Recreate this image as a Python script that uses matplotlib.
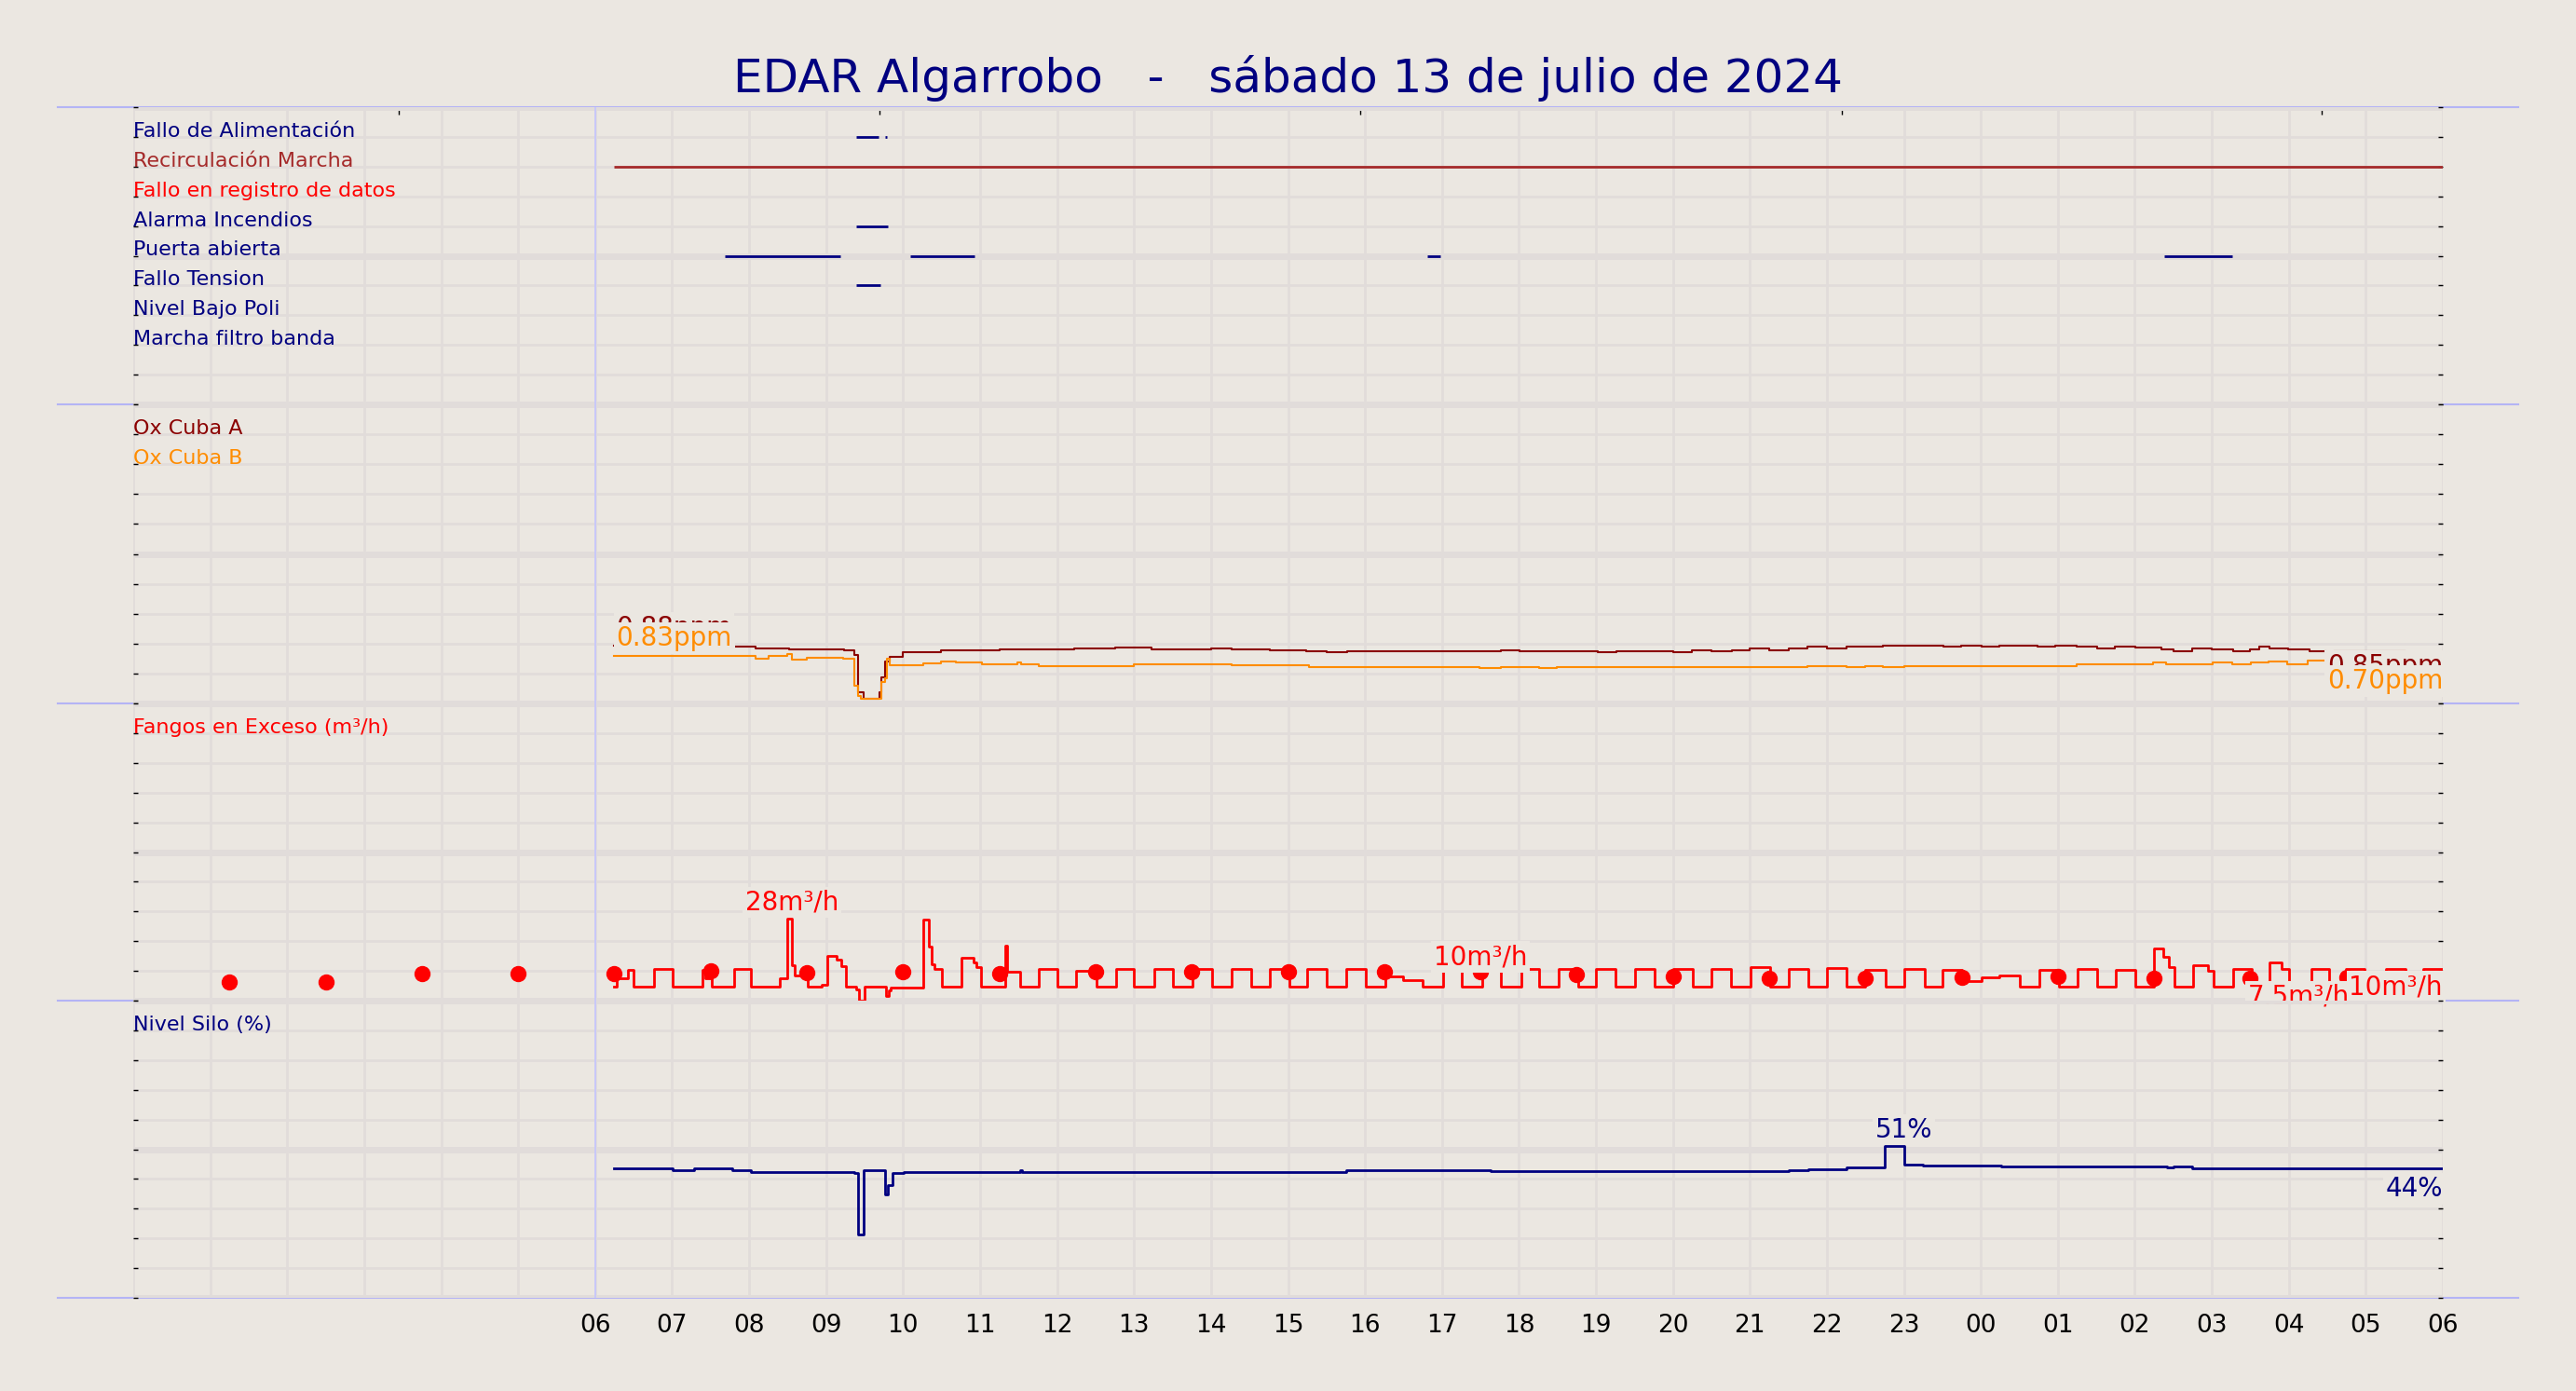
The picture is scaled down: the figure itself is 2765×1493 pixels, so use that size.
import numpy as np
import matplotlib.pyplot as plt
from matplotlib.lines import Line2D

BG = '#ebe7e1'
GRID = '#e1dcda'
BLUE = '#b4b4f5'

# hours counted from 00:00 of 13 July (axis runs 0..30)
hours = list(range(0, 31))
hour_labels = ['' if h < 6 else '%02d' % (h % 24) for h in hours]
top_ticks = [3.45, 9.69, 15.94, 22.19, 28.43]

# --- digital signals ---
digital_names = ['Fallo de Alimentación', 'Recirculación Marcha', 'Fallo en registro de datos',
                 'Alarma Incendios', 'Puerta abierta', 'Fallo Tension', 'Nivel Bajo Poli',
                 'Marcha filtro banda']
digital_colors = ['navy', 'brown', 'red', 'navy', 'navy', 'navy', 'navy', 'navy']
digital_rows = [9, 8, 7, 6, 5, 4, 3, 2]
digital_on = [
    [(9.39, 9.68), (9.76, 9.79)],
    [(6.24, 30.0)],
    [],
    [(9.39, 9.80)],
    [(7.69, 9.19), (10.09, 10.93), (16.81, 16.98), (26.38, 27.27)],
    [(9.39, 9.71)],
    [],
    [],
]

# --- oxygen (ppm) ---
ox_a_t = [6.24, 7.80, 8.08, 8.52, 8.75, 8.95, 9.23, 9.37, 9.41, 9.49, 9.69, 9.72, 9.76, 9.83,
          9.99, 10.49, 11.26, 11.53, 12.22, 12.76, 13.23, 13.50, 13.73, 14.00, 14.27, 14.50,
          14.77, 15.23, 15.50, 15.77, 16.27, 16.73, 17.03, 17.76, 18.01, 19.02, 19.26, 20.00,
          20.25, 20.50, 20.77, 21.00, 21.25, 21.50, 21.75, 22.00, 22.26, 22.73, 23.51, 23.74,
          24.01, 24.24, 24.74, 24.97, 25.24, 25.51, 25.74, 26.01, 26.34, 26.50, 26.74, 27.00,
          27.28, 27.49, 27.61, 27.75, 27.99, 28.27, 28.49, 28.58, 28.96, 29.51, 30.0]
ox_a_v = [0.97, 0.95, 0.925, 0.91, 0.90, 0.91, 0.89, 0.81, 0.18, 0.08, 0.18, 0.44, 0.70, 0.78,
          0.86, 0.89, 0.90, 0.91, 0.925, 0.93, 0.91, 0.90, 0.91, 0.925, 0.91, 0.90,
          0.89, 0.88, 0.86, 0.87, 0.87, 0.875, 0.874, 0.894, 0.874, 0.858, 0.874, 0.858,
          0.894, 0.874, 0.894, 0.925, 0.894, 0.925, 0.946, 0.925, 0.946, 0.96, 0.946, 0.96,
          0.946, 0.96, 0.946, 0.96, 0.946, 0.925, 0.946, 0.93, 0.91, 0.88, 0.92, 0.91,
          0.88, 0.91, 0.95, 0.92, 0.90, 0.88, 0.84, 0.87, 0.88, 0.86, 0.86]
ox_b_t = [6.24, 8.08, 8.25, 8.50, 8.56, 8.75, 9.22, 9.37, 9.41, 9.45, 9.72, 9.76, 9.79, 9.83,
          10.26, 10.49, 10.68, 11.03, 11.49, 11.53, 11.76, 12.49, 13.00, 14.27, 15.27, 15.77,
          17.03, 17.49, 17.76, 18.26, 18.49, 21.75, 22.26, 22.50, 22.73, 23.00, 25.24, 26.01,
          26.24, 26.40, 26.51, 26.74, 27.01, 27.27, 27.51, 27.74, 27.98, 28.25, 28.52, 29.2, 30.0]
ox_b_v = [0.79, 0.74, 0.79, 0.82, 0.73, 0.76, 0.74, 0.30, 0.12, 0.08, 0.36, 0.42, 0.75, 0.64,
          0.67, 0.70, 0.68, 0.65, 0.69, 0.65, 0.62, 0.63, 0.66, 0.64, 0.61, 0.60,
          0.61, 0.59, 0.61, 0.59, 0.61, 0.63, 0.61, 0.63, 0.61, 0.63, 0.65, 0.66,
          0.69, 0.66, 0.65, 0.66, 0.69, 0.66, 0.69, 0.70, 0.66, 0.72, 0.73, 0.72, 0.72]

# --- fangos en exceso (m3/h) ---
fangos_t = [6.25, 6.28, 6.42, 6.50, 6.77, 7.01, 7.39, 7.43, 7.51, 7.81, 8.02, 8.40, 8.50, 8.56,
            8.59, 8.76, 8.94, 9.01, 9.14, 9.20, 9.26, 9.39, 9.43, 9.50, 9.78, 9.81, 9.84, 10.26,
            10.33, 10.37, 10.41, 10.51, 10.76, 10.91, 10.95, 11.01, 11.33, 11.35, 11.52, 11.76,
            12.01, 12.25, 12.51, 12.77, 13.00, 13.26, 13.51, 13.76, 14.01, 14.27, 14.52, 14.76,
            15.02, 15.25, 15.50, 15.76, 16.01, 16.26, 16.50, 16.75, 17.02, 17.26, 17.52, 17.76,
            18.03, 18.26, 18.51, 18.77, 19.00, 19.25, 19.51, 19.76, 20.01, 20.26, 20.50, 20.75,
            21.01, 21.26, 21.51, 21.76, 22.00, 22.26, 22.50, 22.76, 23.00, 23.27, 23.50, 23.75,
            24.01, 24.24, 24.50, 24.76, 25.01, 25.26, 25.51, 25.75, 26.01, 26.25, 26.37, 26.44,
            26.51, 26.76, 26.95, 27.02, 27.28, 27.52, 27.75, 27.91, 28.00, 28.29, 28.52, 28.74,
            28.98, 29.26, 29.52, 29.75, 30.0]
fangos_v = [4.8, 7.5, 10.4, 4.8, 10.8, 4.8, 10.4, 7.5, 4.8, 10.8, 4.8, 7.5, 27.5, 12.0,
            8.5, 4.6, 5.2, 15.1, 13.7, 11.5, 4.8, 3.8, 0.0, 4.8, 1.5, 3.3, 4.4, 27.3,
            18.1, 12.2, 10.6, 4.8, 14.5, 13.0, 11.3, 4.8, 18.4, 9.8, 4.8, 10.8,
            4.8, 10.0, 4.8, 10.8, 4.8, 10.8, 4.8, 10.8, 4.8, 10.8, 4.8, 10.8,
            4.8, 10.8, 4.8, 10.8, 4.8, 8.0, 7.0, 4.8, 10.8, 4.8, 10.8, 4.8,
            10.8, 4.8, 10.8, 4.8, 10.8, 4.8, 10.8, 4.8, 10.8, 4.8, 10.6, 4.8,
            11.2, 4.8, 10.8, 4.8, 11.0, 4.8, 10.3, 4.8, 10.8, 4.8, 10.2, 6.7,
            7.9, 8.5, 4.6, 10.3, 4.8, 10.6, 4.8, 10.4, 4.8, 17.6, 14.6, 11.3,
            4.8, 12.0, 10.1, 4.8, 10.8, 4.8, 12.9, 10.6, 4.8, 10.8, 4.8, 10.8,
            4.8, 10.8, 4.8, 10.8, 10.8]
fangos_dot_t = [1.25, 2.5, 3.75, 5.0, 6.25, 7.5, 8.75, 10.0, 11.25, 12.5, 13.75, 15.0,
                16.25, 17.5, 18.75, 20.0, 21.25, 22.5, 23.75, 25.0, 26.25, 27.5, 28.75]
fangos_dot_v = [6.3, 6.3, 9.0, 9.0, 9.1, 10.1, 9.4, 9.6, 9.1, 9.6, 9.6, 9.6,
                9.6, 9.6, 8.8, 8.0, 7.5, 7.5, 7.7, 8.0, 7.4, 7.4, 7.9]

# --- nivel silo (%) ---
silo_t = [6.25, 7.01, 7.28, 7.78, 8.02, 9.37, 9.41, 9.49, 9.77, 9.80, 9.86, 10.01, 11.52,
          11.55, 15.76, 17.63, 21.50, 21.76, 22.26, 22.75, 23.00, 23.25, 24.26, 26.42, 26.50,
          26.74, 30.0]
silo_v = [43.6, 43.0, 43.6, 42.8, 42.4, 41.9, 21.3, 42.8, 34.8, 38.0, 42.0, 42.4, 42.9,
          42.4, 42.8, 42.7, 42.9, 43.4, 43.8, 51.0, 44.8, 44.4, 44.1, 43.8, 44.3,
          43.7, 43.7]

W, H = 2765, 1493
fig = plt.figure(figsize=(W / 100, H / 100), dpi=100, facecolor=BG)

left, right = 143 / W, 2622 / W
edges = [115, 434, 755, 1074, 1393]
ymax = [10, 5, 100, 100]
axes = []
for i in range(4):
    b = 1 - edges[i + 1] / H
    h = (edges[i + 1] - edges[i]) / H
    ax = fig.add_axes([left, b, right - left, h])
    ax.set_facecolor('none')
    ax.set_xlim(0, 30)
    ax.set_ylim(0, ymax[i])
    for s in ax.spines.values():
        s.set_visible(False)
    ax.set_yticks(np.linspace(0, ymax[i], 3))
    ax.set_yticks(np.linspace(0, ymax[i], 11), minor=True)
    ax.set_xticks(hours)
    ax.set_xticklabels(hour_labels)
    ax.grid(True, axis='y', which='major', color=GRID, lw=5)
    ax.grid(True, axis='y', which='minor', color=GRID, lw=2)
    ax.grid(True, axis='x', which='major', color=GRID, lw=2)
    ax.tick_params(axis='y', which='both', direction='in', length=3.5, width=1,
                   left=True, right=True, labelleft=False, color='black')
    ax.tick_params(axis='x', length=0, labelsize=19, pad=12, labelbottom=(i == 3))
    ax.axvline(6, color='#c4c4ff', lw=1.2, zorder=1.6)
    axes.append(ax)

ax1, ax2, ax3, ax4 = axes
sec = ax1.secondary_xaxis('top')
sec.set_xticks(top_ticks)
sec.tick_params(direction='in', length=6, width=1, labeltop=False, color='black')
sec.spines['top'].set_visible(False)

# horizontal separators
for e in edges:
    y = 1 - e / H
    fig.add_artist(Line2D([62 / W, 2703 / W], [y, y], color=BLUE, lw=1.5, zorder=-1))

fig.text(0.5, 1 - 84 / H, 'EDAR Algarrobo   -   sábado 13 de julio de 2024',
         ha='center', va='center', fontsize=36, color='navy')

box = dict(facecolor=BG, edgecolor='none', pad=2)

# panel 1
for name, col, row, spans in zip(digital_names, digital_colors, digital_rows, digital_on):
    ax1.text(0, row, name, color=col, fontsize=16, ha='left', va='baseline')
    for s, e in spans:
        ax1.hlines(row, s, e, color=col, lw=2)

# panel 2
ax2.text(0, 4.5, 'Ox Cuba A', color='darkred', fontsize=16, va='baseline')
ax2.text(0, 4.0, 'Ox Cuba B', color='darkorange', fontsize=16, va='baseline')
ax2.plot(ox_a_t, ox_a_v, drawstyle='steps-post', color='darkred', lw=1.5)
ax2.plot(ox_b_t, ox_b_v, drawstyle='steps-post', color='darkorange', lw=1.5)
ax2.annotate('0.88ppm', (ox_a_t[0], ox_a_v[0]), xytext=(2, 8), textcoords='offset points',
             ha='left', va='baseline', color='darkred', fontsize=20, bbox=box)
ax2.annotate('0.83ppm', (ox_b_t[0], ox_b_v[0]), xytext=(2, 8), textcoords='offset points',
             ha='left', va='baseline', color='darkorange', fontsize=20, bbox=box)
ax2.annotate('0.85ppm', (ox_a_t[-1], ox_a_v[-1]), xytext=(0, -1), textcoords='offset points',
             ha='right', va='top', color='darkred', fontsize=20, bbox=box)
ax2.annotate('0.70ppm', (ox_b_t[-1], ox_b_v[-1]), xytext=(0, -6), textcoords='offset points',
             ha='right', va='top', color='darkorange', fontsize=20, bbox=box)

# panel 3
ax3.text(0, 90, 'Fangos en Exceso (m³/h)', color='red', fontsize=16, va='baseline')
ax3.plot(fangos_t, fangos_v, drawstyle='steps-post', color='red', lw=2)
ax3.plot(fangos_dot_t, fangos_dot_v, 'o', color='red', ms=11.5)
imax = int(np.argmax(fangos_v))
ax3.annotate('28m³/h', (fangos_t[imax + 1], fangos_v[imax]), xytext=(0, 7),
             textcoords='offset points', ha='center', va='baseline', color='red',
             fontsize=20, bbox=box)
ax3.annotate('10m³/h', (fangos_dot_t[13], fangos_dot_v[13]), xytext=(0, 6),
             textcoords='offset points', ha='center', va='baseline', color='red',
             fontsize=20, bbox=box)
ax3.annotate('7.5m³/h', (fangos_dot_t[21], fangos_dot_v[21]), xytext=(-2, -4),
             textcoords='offset points', ha='left', va='top', color='red',
             fontsize=20, bbox=box)
ax3.annotate('10m³/h', (fangos_t[-1], fangos_v[-1]), xytext=(0, -4),
             textcoords='offset points', ha='right', va='top', color='red',
             fontsize=20, bbox=box)

# panel 4
ax4.text(0, 90, 'Nivel Silo (%)', color='navy', fontsize=16, va='baseline')
ax4.plot(silo_t, silo_v, drawstyle='steps-post', color='navy', lw=2)
smax = int(np.argmax(silo_v))
ax4.annotate('51%', (silo_t[smax + 1], silo_v[smax]), xytext=(0, 7),
             textcoords='offset points', ha='center', va='baseline', color='navy',
             fontsize=20, bbox=box)
ax4.annotate('44%', (silo_t[-1], silo_v[-1]), xytext=(0, -6),
             textcoords='offset points', ha='right', va='top', color='navy',
             fontsize=20, bbox=box)

fig.savefig('out.png', dpi=100, facecolor=BG)
